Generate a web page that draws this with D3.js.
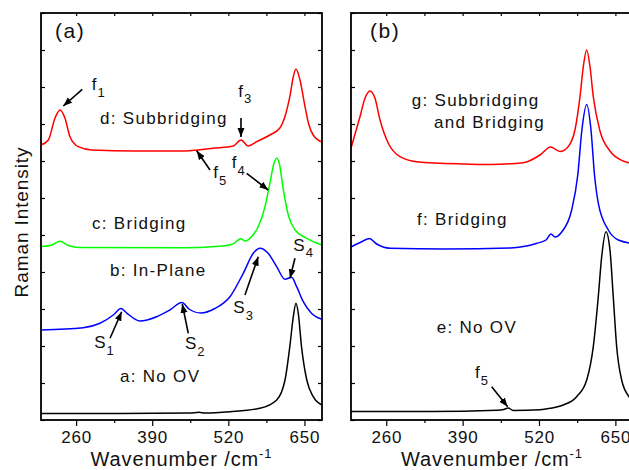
<!DOCTYPE html>
<html>
<head>
<meta charset="utf-8">
<script src="https://cdn.jsdelivr.net/npm/d3@7"></script>
<style>
  body { margin: 0; background: #fff; }
  svg text { font-family: "Liberation Sans", Arial, sans-serif; fill: #111; }
</style>
</head>
<body>
<svg id="chart" width="629" height="470"></svg>
<script>
// Raman spectra of the two oxygen-vacancy models.
// Each series is [wavenumber (cm-1), intensity (arbitrary units)].

const X_DOMAIN = [200, 680];
const Y_DOMAIN = [0, 407];
const majorTicks = [260, 390, 520, 650];
const minorTicks = [325, 455, 585];
const yTickValues = d3.range(0, 408, 37);

// panel (a)
const specA_noOV = [
  [200, 6.5], [335, 6.5], [454.5, 7], [470, 7.7], [480, 7], [522.8, 8.3],
  [574, 11.7], [602.6, 20], [616.8, 40], [625, 73.3], [631, 103.3],
  [635.5, 116.7], [639.5, 106.7], [645, 73.3], [654, 40], [665, 23.3], [680, 15]
];
const specB_inPlane = [
  [200, 90], [272, 92.3], [300.8, 96.7], [323.5, 105], [336.6, 111.5],
  [347, 106.7], [369, 99], [397.6, 103.3], [420, 110], [440.8, 117.5],
  [452.8, 111], [473, 107], [497, 111.5], [522.8, 123.3], [545.5, 146.7],
  [562.6, 166.7], [574, 171.7], [588, 166.7], [602.6, 153.3], [616.8, 140.7],
  [628, 142.7], [636.7, 133.3], [648, 118.3], [662, 106.7], [680, 100.7]
];
const specC_bridging = [
  [200, 173.5], [218.8, 175], [232.5, 178.7], [246.6, 174.5], [266.6, 172.5],
  [446, 172.3], [497, 173.5], [526, 175.5], [541.6, 181.2], [549, 179],
  [560, 183.5], [571, 193.3], [582.6, 213.3], [591, 236.7], [598, 256.7],
  [602.6, 261.7], [607, 256.7], [614, 230], [622.4, 205], [634, 190],
  [654, 181.7], [680, 175]
];
const specD_subbridging = [
  [200, 275], [212.5, 280], [224, 302], [232.5, 310], [241, 301.7],
  [249.5, 283.3], [263.7, 273.3], [286.6, 270], [360.6, 269], [446, 269],
  [468, 270], [494, 271.7], [528.5, 274], [541.6, 280], [554, 274],
  [568.4, 278.3], [591, 285], [608, 292], [617, 304], [625, 323.3],
  [631, 343.3], [635.5, 351], [642.4, 340], [651, 313.3], [657.7, 295],
  [665, 285], [680, 278]
];

// panel (b)
const specE_noOV = [
  [200, 8.5], [334.5, 8.5], [448.6, 9.7], [460, 10.5], [467.7, 12], [476, 9.5],
  [521.7, 10.3], [538.7, 11.7], [561.3, 15], [584.1, 23.3], [601.2, 40],
  [612.4, 73.3], [620.9, 123.3], [626.7, 163.3], [634, 188.3], [640.8, 170],
  [646.4, 123.3], [652.2, 73.3], [660.7, 40], [673.2, 23.3], [680, 19]
];
const specF_bridging = [
  [200, 173], [218.2, 178.3], [231.5, 181.5], [242.5, 176.5], [266.4, 171.7],
  [360, 171], [470.6, 172], [516.6, 176.7], [531.9, 180], [540.4, 186],
  [547.2, 183], [559, 188.3], [575.6, 210], [586, 245], [593, 290],
  [601.2, 315.5], [608.5, 290], [614.5, 245], [621, 216.7], [638, 190],
  [655, 180], [680, 176.5]
];
const specG_subAndBridging = [
  [200, 271.7], [215.3, 303.3], [223.8, 321.7], [232.3, 329], [240.8, 321.7],
  [249.4, 300], [263.5, 276.7], [283.4, 263.3], [311.8, 258.3], [391, 256],
  [436.6, 255.5], [493.3, 257.3], [521.7, 265], [539.6, 273], [555.7, 268.5],
  [568.5, 272.5], [581.2, 290], [589.8, 323.3], [595.4, 353.3], [601.2, 370],
  [606.8, 353.3], [612.4, 323.3], [623.8, 289], [640.8, 269], [663.5, 259],
  [680, 256.5]
];

// labels, placed in data coordinates of their panel
const labelsA = [
  { text: "(a)", w: 223.9, v: 382, big: true },
  { text: "d: Subbridging", w: 300.8, v: 296 },
  { text: "c: Bridging", w: 287.1, v: 191 },
  { text: "b: In-Plane", w: 317.9, v: 144 },
  { text: "a: No OV", w: 334.9, v: 38 }
];
const labelsB = [
  { text: "(b)", w: 232.3, v: 382, big: true },
  { text: "g: Subbridging", w: 303.3, v: 314.3 },
  { text: "and Bridging", w: 341.3, v: 291.7 },
  { text: "f: Bridging", w: 312.3, v: 195.5 },
  { text: "e: No OV", w: 345.9, v: 86.7 }
];

// peak markers: symbol, subscript, label spot, arrow tail -> head
const peaksA = [
  { s: "f", sub: "1", w: 286.6, v: 330, from: [270.5, 330.7], to: [238.1, 314] },
  { s: "f", sub: "3", w: 537, v: 323.3, from: [541.6, 302], to: [541.6, 283] },
  { s: "f", sub: "4", w: 525.7, v: 251.7, from: [551.3, 246.7], to: [588.2, 230] },
  { s: "f", sub: "5", w: 494.3, v: 241.7, from: [488.7, 250], to: [466, 269.3] },
  { s: "S", sub: "1", w: 291, v: 71.7, from: [317.9, 81.7], to: [337.8, 108.3] },
  { s: "S", sub: "2", w: 446, v: 70.7, from: [451.6, 86.7], to: [441.3, 116] },
  { s: "S", sub: "3", w: 528.5, v: 106.7, from: [548.4, 125], to: [571.1, 163.3] },
  { s: "S", sub: "4", w: 631, v: 169.3, from: [633.8, 161.7], to: [625.3, 141.7] }
];
const peaksB = [
  { s: "f", sub: "5", w: 411, v: 41.7, from: [439.5, 33.3], to: [466.7, 13.3] }
];

const TOP = 13;
const BOTTOM = 420;

const svg = d3.select("#chart");

svg.append("defs")
  .append("marker")
  .attr("id", "arrow")
  .attr("viewBox", "0 -4 9 8")
  .attr("refX", 9)
  .attr("refY", 0)
  .attr("markerWidth", 9)
  .attr("markerHeight", 8)
  .attr("markerUnits", "userSpaceOnUse")
  .attr("orient", "auto")
  .append("path")
  .attr("d", "M0,-3.5L9,0L0,3.5Z")
  .attr("fill", "#000");

function drawPanel(opts) {
  const x = d3.scaleLinear().domain(X_DOMAIN).range([opts.left, opts.right]);
  const y = d3.scaleLinear().domain(Y_DOMAIN).range([BOTTOM, TOP]);
  const g = svg.append("g");

  const line = d3.line()
    .x((d) => x(d[0]))
    .y((d) => y(d[1]))
    .curve(d3.curveMonotoneX);

  opts.series.forEach((s) => {
    g.append("path")
      .datum(s.data)
      .attr("d", line)
      .attr("fill", "none")
      .attr("stroke", s.color)
      .attr("stroke-width", 1.5);
  });

  // ticks: bottom outward, everything else inward
  const noLabel = () => "";
  const bottomMajor = g.append("g")
    .attr("transform", `translate(0,${BOTTOM})`)
    .call(d3.axisBottom(x).tickValues(majorTicks).tickSize(6).tickSizeOuter(0).tickPadding(5));
  g.append("g")
    .attr("transform", `translate(0,${BOTTOM})`)
    .call(d3.axisBottom(x).tickValues(minorTicks).tickSize(3).tickSizeOuter(0).tickFormat(noLabel));
  g.append("g")
    .attr("transform", `translate(0,${TOP})`)
    .call(d3.axisTop(x).tickValues(majorTicks.concat(minorTicks)).tickSize(-3).tickSizeOuter(0).tickFormat(noLabel));
  g.append("g")
    .attr("transform", `translate(${opts.left},0)`)
    .call(d3.axisLeft(y).tickValues(yTickValues).tickSize(-4).tickSizeOuter(0).tickFormat(noLabel));
  g.append("g")
    .attr("transform", `translate(${opts.right},0)`)
    .call(d3.axisRight(y).tickValues(yTickValues).tickSize(-4).tickSizeOuter(0).tickFormat(noLabel));

  g.selectAll(".domain").remove();
  g.selectAll(".tick line").attr("stroke", "#000").attr("stroke-width", 1.2);
  bottomMajor.selectAll("text")
    .attr("font-size", 17)
    .attr("letter-spacing", "0.8px")
    .attr("fill", "#111");

  // frame
  g.append("rect")
    .attr("x", opts.left)
    .attr("y", TOP)
    .attr("width", opts.right - opts.left)
    .attr("height", BOTTOM - TOP)
    .attr("fill", "none")
    .attr("stroke", "#000")
    .attr("stroke-width", 1.8);

  // x title
  const title = g.append("text")
    .attr("x", (opts.left + opts.right) / 2)
    .attr("y", 466)
    .attr("text-anchor", "middle")
    .attr("font-size", 20)
    .attr("letter-spacing", "0.9px")
    .text("Wavenumber /cm");
  title.append("tspan")
    .attr("font-size", 13)
    .attr("dy", -8)
    .text("-1");

  opts.labels.forEach((l) => {
    g.append("text")
      .attr("x", x(l.w))
      .attr("y", y(l.v))
      .attr("font-size", l.big ? 21 : 17)
      .attr("letter-spacing", l.big ? "1.5px" : "1.3px")
      .text(l.text);
  });

  opts.peaks.forEach((p) => {
    const t = g.append("text")
      .attr("x", x(p.w))
      .attr("y", y(p.v))
      .attr("font-size", 17)
      .text(p.s);
    t.append("tspan")
      .attr("font-size", 13)
      .attr("dx", 1)
      .attr("dy", 6.5)
      .text(p.sub);

    g.append("line")
      .attr("x1", x(p.from[0]))
      .attr("y1", y(p.from[1]))
      .attr("x2", x(p.to[0]))
      .attr("y2", y(p.to[1]))
      .attr("stroke", "#000")
      .attr("stroke-width", 1.6)
      .attr("marker-end", "url(#arrow)");
  });
}

drawPanel({
  left: 41,
  right: 322,
  series: [
    { data: specA_noOV, color: "#000000" },
    { data: specB_inPlane, color: "#0000ff" },
    { data: specC_bridging, color: "#00ff00" },
    { data: specD_subbridging, color: "#ff0000" }
  ],
  labels: labelsA,
  peaks: peaksA
});

drawPanel({
  left: 351,
  right: 633,
  series: [
    { data: specE_noOV, color: "#000000" },
    { data: specF_bridging, color: "#0000ff" },
    { data: specG_subAndBridging, color: "#ff0000" }
  ],
  labels: labelsB,
  peaks: peaksB
});

svg.append("text")
  .attr("transform", "translate(28,222) rotate(-90)")
  .attr("text-anchor", "middle")
  .attr("font-size", 19)
  .attr("letter-spacing", "0.9px")
  .text("Raman Intensity");
</script>
</body>
</html>
